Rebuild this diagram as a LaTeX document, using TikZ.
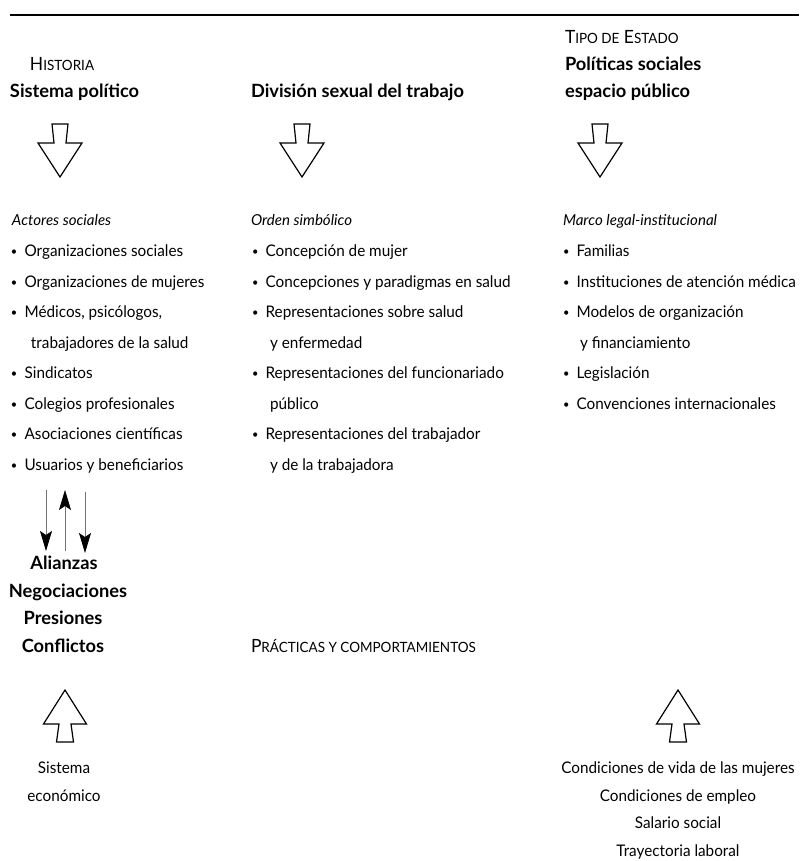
\documentclass[tikz,border=0pt]{standalone}
\usepackage{fontspec}
\setmainfont{Lato}[UprightFeatures={FakeStretch=0.955}]
\usetikzlibrary{arrows.meta}
\newcommand{\fsc}[1]{{\fontsize{10.6}{12}\selectfont #1}}
\newcommand{\bul}{\makebox[10.2pt][l]{\raisebox{0.6pt}{\scalebox{0.72}{•}}}}
\tikzset{
  base/.style={inner sep=0pt, outer sep=0pt},
  txt/.style={base, anchor=base west, font=\fontsize{12}{14}\selectfont},
  hd/.style={base, anchor=base west, font=\fontsize{13.7}{16}\selectfont\bfseries},
  sc/.style={base, anchor=base west, font=\fontsize{13.7}{16}\selectfont},
  lbl/.style={base, anchor=base west, font=\fontsize{11.3}{13}\selectfont\itshape},
  ctr/.style={base, anchor=base, font=\fontsize{12}{14}\selectfont},
  ctrb/.style={base, anchor=base, font=\fontsize{13.7}{16}\selectfont\bfseries},
  hollow/.style={draw=black, line width=0.9pt, line join=miter, fill=white},
  thin/.style={draw=black!55, line width=0.6pt},
  tip/.style={-{Stealth[length=15pt,width=9pt,inset=3pt,color=black]}}
}
\newcommand{\harrowdown}[1]{%
  \draw[hollow] (#1-8,124) -- (#1+8,124) -- (#1+6,143) -- (#1+22,143) -- (#1,177)
    -- (#1-22,143) -- (#1-6,143) -- cycle;}
\newcommand{\harrowup}[1]{%
  \draw[hollow] (#1-8.5,742) -- (#1+8.5,742) -- (#1+6,724) -- (#1+21.5,724) -- (#1,690)
    -- (#1-21.5,724) -- (#1-6,724) -- cycle;}
\begin{document}
\begin{tikzpicture}[x=0.75pt,y=-0.75pt]
\useasboundingbox (0,0) rectangle (802,861);
% top rule
\draw[line width=2pt] (10,15) -- (799,15);

% headings
\node[sc] (tipo) at (565,43.5) {T\fsc{IPO DE} E\fsc{STADO}};
\node[sc] (hist) at (30,70.5) {H\fsc{ISTORIA}};
\node[hd] (polsoc) at (565,70.5) {Políticas sociales};
\node[hd] (sispol) at (10,97.5) {Sistema político};
\node[hd] (divsex) at (251,97.5) {División sexual del trabajo};
\node[hd] (esppub) at (565,97.5) {espacio público};

% hollow down arrows
\harrowdown{60}
\harrowdown{302}
\harrowdown{600}

% italic labels
\node[lbl] (actores) at (12,225) {Actores sociales};
\node[lbl] (orden) at (251,225) {Orden simbólico};
\node[lbl] (marco) at (563,225) {Marco legal-institucional};

% left list
\node[txt] (l1) at (11,256.5) {\bul Organizaciones sociales};
\node[txt] (l2) at (11,287)   {\bul Organizaciones de mujeres};
\node[txt] (l3) at (11,317.5) {\bul Médicos, psicólogos,};
\node[txt] (l3b) at (31,348)  {trabajadores de la salud};
\node[txt] (l4) at (11,378.5) {\bul Sindicatos};
\node[txt] (l5) at (11,409)   {\bul Colegios profesionales};
\node[txt] (l6) at (11,439.5) {\bul Asociaciones científicas};
\node[txt] (l7) at (11,470)   {\bul Usuarios y beneficiarios};

% middle list
\node[txt] (m1) at (252,256.5) {\bul Concepción de mujer};
\node[txt] (m2) at (252,287)   {\bul Concepciones y paradigmas en salud};
\node[txt] (m3) at (252,317.5) {\bul Representaciones sobre salud};
\node[txt] (m3b) at (270,348)  {y enfermedad};
\node[txt] (m4) at (252,378.5) {\bul Representaciones del funcionariado};
\node[txt] (m4b) at (270,409)  {público};
\node[txt] (m5) at (252,439.5) {\bul Representaciones del trabajador};
\node[txt] (m5b) at (270,470)  {y de la trabajadora};

% right list
\node[txt] (r1) at (563,256.5) {\bul Familias};
\node[txt] (r2) at (563,287)   {\bul Instituciones de atención médica};
\node[txt] (r3) at (563,317.5) {\bul Modelos de organización};
\node[txt] (r3b) at (580,348)  {y financiamiento};
\node[txt] (r4) at (563,378.5) {\bul Legislación};
\node[txt] (r5) at (563,409)   {\bul Convenciones internacionales};

% three thin arrows
\coordinate (a1s) at (46,490);
\coordinate (a1e) at (46,551);
\coordinate (a2s) at (65,551);
\coordinate (a2e) at (65,490);
\coordinate (a3s) at (85,492);
\coordinate (a3e) at (85,553);
\draw[thin, tip] (a1s) -- (a1e);
\draw[thin, tip] (a2s) -- (a2e);
\draw[thin, tip] (a3s) -- (a3e);

% bold stack
\node[ctrb] (ali) at (64,569.5) {Alianzas};
\node[ctrb] (neg) at (68,597)   {Negociaciones};
\node[ctrb] (pre) at (63,624.5) {Presiones};
\node[ctrb] (con) at (63,652)   {Conflictos};

\node[sc] (prac) at (251,652) {P\fsc{RÁCTICAS Y COMPORTAMIENTOS}};

% hollow up arrows
\harrowup{65}
\harrowup{678}

% bottom texts
\node[ctr] (sis) at (64,773.5) {Sistema};
\node[ctr] (eco) at (64,801) {económico};
\node[ctr] (cv) at (678,773.5) {Condiciones de vida de las mujeres};
\node[ctr] (ce) at (678,801) {Condiciones de empleo};
\node[ctr] (ss) at (678,828.5) {Salario social};
\node[ctr] (tl) at (678,856) {Trayectoria laboral};
\end{tikzpicture}
\end{document}
